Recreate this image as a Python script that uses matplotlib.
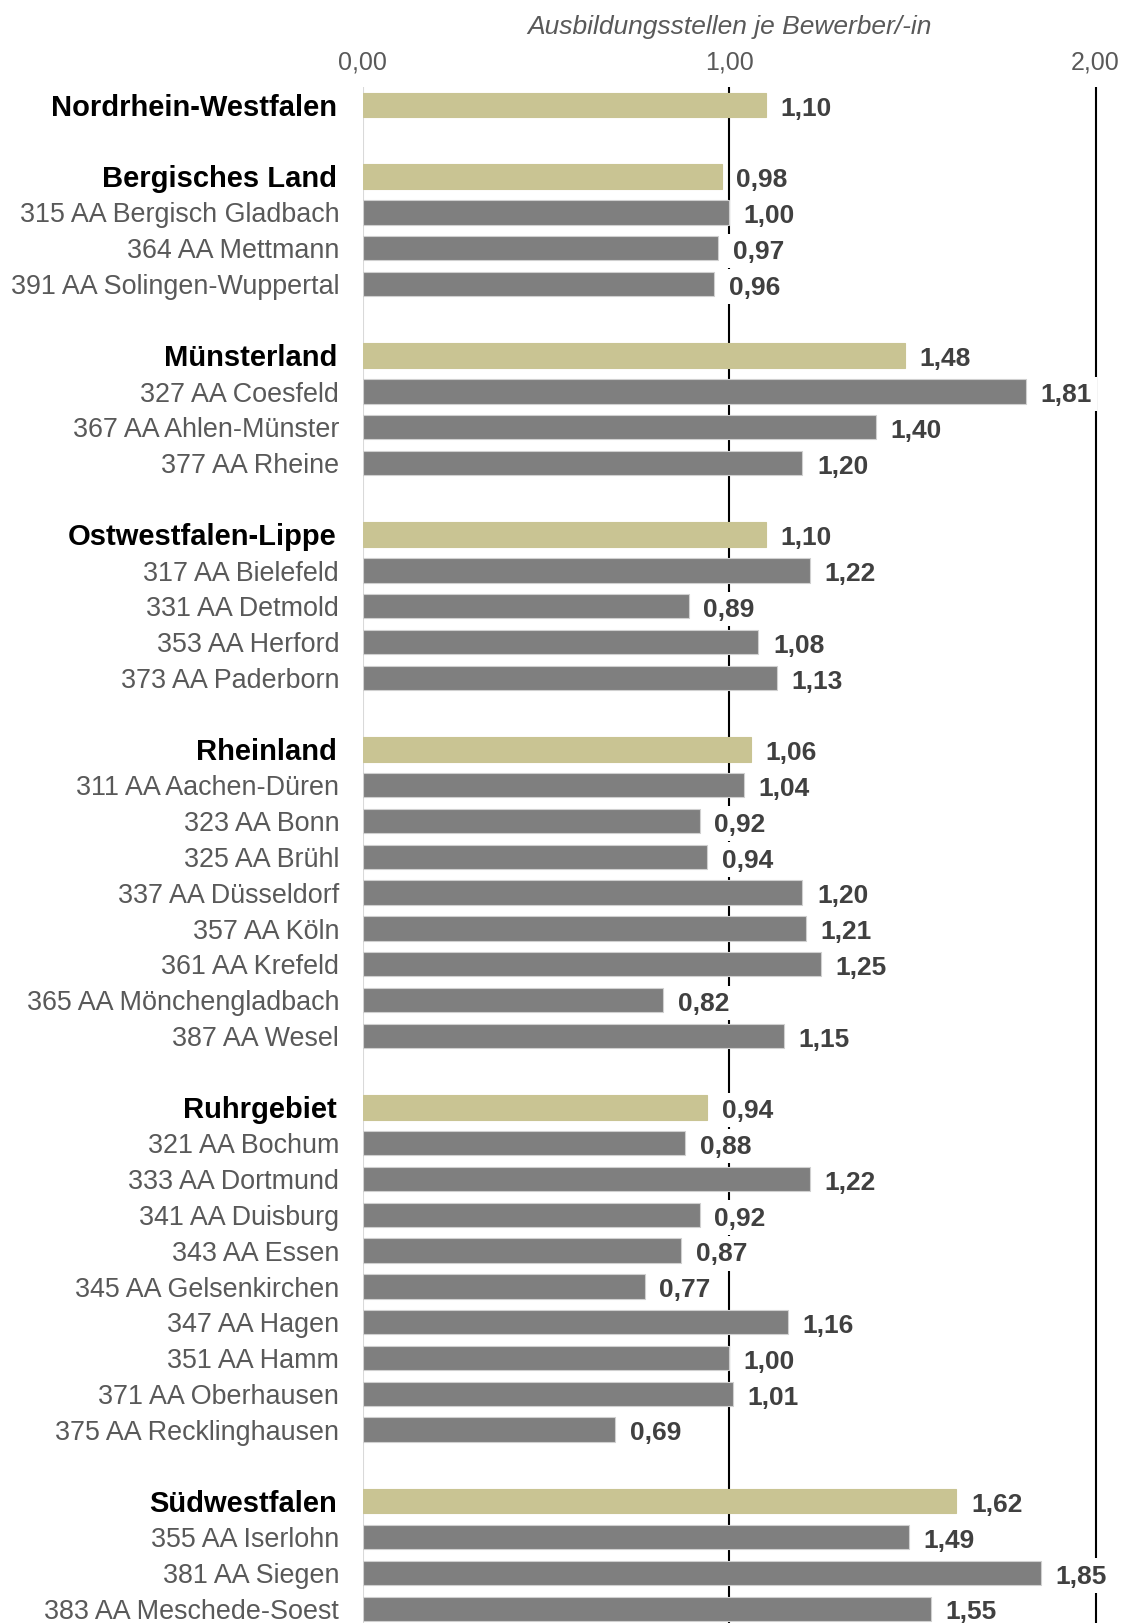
import numpy as np
import matplotlib.pyplot as plt

plt.rcParams['font.family'] = ['Liberation Sans', 'DejaVu Sans']

# data
regions = ['Nordrhein-Westfalen', 'Bergisches Land', 'Münsterland', 'Ostwestfalen-Lippe',
           'Rheinland', 'Ruhrgebiet', 'Südwestfalen']
region_values = [1.10, 0.98, 1.48, 1.10, 1.06, 0.94, 1.62]

offices = [
    [],
    ['315 AA Bergisch Gladbach', '364 AA Mettmann', '391 AA Solingen-Wuppertal'],
    ['327 AA Coesfeld', '367 AA Ahlen-Münster', '377 AA Rheine'],
    ['317 AA Bielefeld', '331 AA Detmold', '353 AA Herford', '373 AA Paderborn'],
    ['311 AA Aachen-Düren', '323 AA Bonn', '325 AA Brühl', '337 AA Düsseldorf',
     '357 AA Köln', '361 AA Krefeld', '365 AA Mönchengladbach', '387 AA Wesel'],
    ['321 AA Bochum', '333 AA Dortmund', '341 AA Duisburg', '343 AA Essen',
     '345 AA Gelsenkirchen', '347 AA Hagen', '351 AA Hamm', '371 AA Oberhausen',
     '375 AA Recklinghausen'],
    ['355 AA Iserlohn', '381 AA Siegen', '383 AA Meschede-Soest'],
]
office_values = [
    [],
    [1.00, 0.97, 0.96],
    [1.81, 1.40, 1.20],
    [1.22, 0.89, 1.08, 1.13],
    [1.04, 0.92, 0.94, 1.20, 1.21, 1.25, 0.82, 1.15],
    [0.88, 1.22, 0.92, 0.87, 0.77, 1.16, 1.00, 1.01, 0.69],
    [1.49, 1.85, 1.55],
]

tick_values = [0, 1, 2]
tick_labels = ['0,00', '1,00', '2,00']
axis_title = 'Ausbildungsstellen je Bewerber/-in'

# build row list (one blank row between groups)
labels, vals, is_region = [], [], []
for i, reg in enumerate(regions):
    if i > 0:
        labels.append(None); vals.append(None); is_region.append(False)
    labels.append(reg); vals.append(region_values[i]); is_region.append(True)
    for name, v in zip(offices[i], office_values[i]):
        labels.append(name); vals.append(v); is_region.append(False)

tan = '#C9C493'
grey = '#7F7F7F'

fig = plt.figure(figsize=(11.21, 16.24), dpi=100)
ax = fig.add_axes([0.3235, 0.0, 0.677, 0.9458])
ax.set_xlim(0, 2.071)
ax.set_ylim(42.4, -0.5)

# reference lines
ax.axvline(0, color='#D9D9D9', lw=1.5, zorder=1)
ax.axvline(1, color='black', lw=1.5, zorder=1)
ax.axvline(2, color='black', lw=1.5, zorder=1)

for y, (lab, v, reg) in enumerate(zip(labels, vals, is_region)):
    if lab is None:
        continue
    ax.barh(y, v, height=0.68, color=tan if reg else grey,
            edgecolor='#D0D0D0' if not reg else tan, lw=0.8, zorder=2)
    ax.annotate(f'{v:.2f}'.replace('.', ','), (v, y), xytext=(10.5, -2),
                textcoords='offset points', ha='left', va='center',
                fontsize=19, fontweight='bold', color='#404040', zorder=3,
                bbox=dict(boxstyle='square,pad=0.2', fc='white', ec='none'),
                annotation_clip=False)
    if reg:
        ax.text(-0.07, y + 0.05, lab, ha='right', va='center', fontsize=21,
                fontweight='bold', color='black')
    else:
        ax.text(-0.064, y + 0.06, lab, ha='right', va='center', fontsize=19.4,
                color='#595959')

for t, tl in zip(tick_values, tick_labels):
    ax.text(t, -1.2, tl, ha='center', va='center', fontsize=18, color='#595959',
            clip_on=False)
ax.text(1.0, -2.2, axis_title, ha='center', va='center', fontsize=19,
        style='italic', color='#595959', clip_on=False)

ax.set_xticks([])
ax.set_yticks([])
for s in ax.spines.values():
    s.set_visible(False)

fig.savefig('out.png', dpi=100)
